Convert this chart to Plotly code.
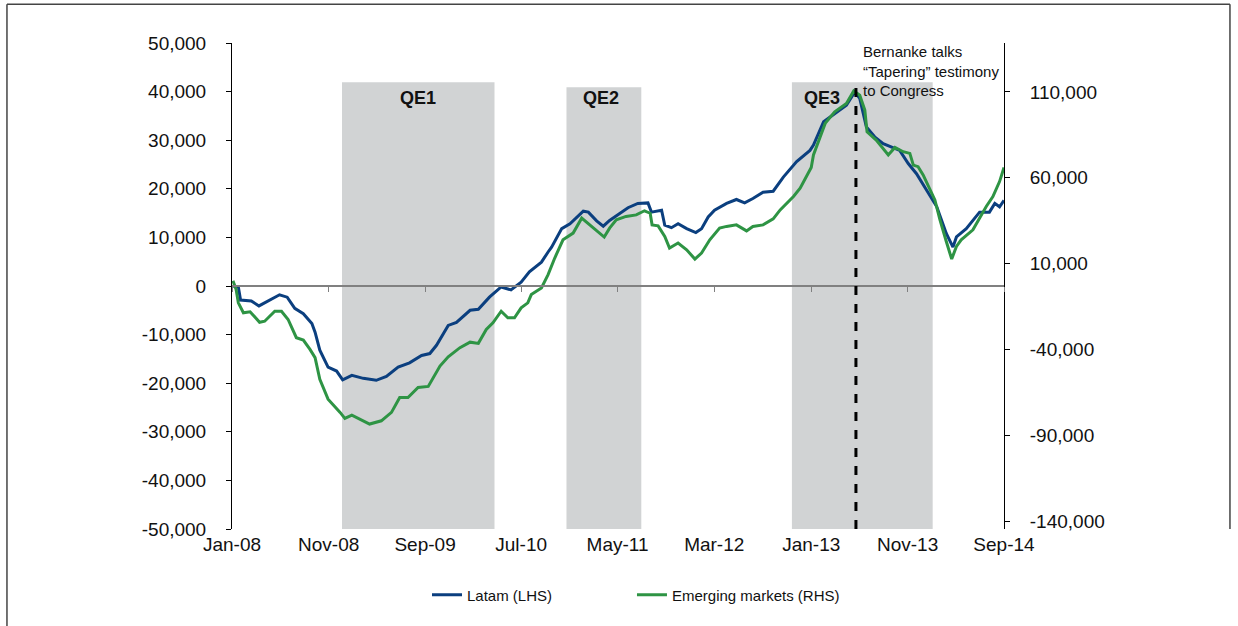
import plotly.graph_objects as go

# Cumulative fund flows, USD mn (weekly series)
latam_dates = [
    "2008-01-04", "2008-01-21", "2008-01-28", "2008-03-02", "2008-03-26", "2008-04-13",
    "2008-05-04", "2008-05-30", "2008-06-23", "2008-07-17", "2008-08-13", "2008-09-09",
    "2008-09-19", "2008-10-04", "2008-10-30", "2008-11-26", "2008-12-15", "2009-01-13",
    "2009-02-18", "2009-03-31", "2009-05-02", "2009-06-08", "2009-07-14", "2009-08-21",
    "2009-09-16", "2009-10-07", "2009-11-13", "2009-12-09", "2010-01-21", "2010-02-16",
    "2010-03-23", "2010-04-29", "2010-05-30", "2010-07-01", "2010-07-27", "2010-09-03",
    "2010-09-24", "2010-10-05", "2010-11-06", "2010-12-02", "2011-01-13", "2011-01-29",
    "2011-02-24", "2011-03-17", "2011-04-06", "2011-05-07", "2011-06-03", "2011-07-04",
    "2011-08-05", "2011-08-16", "2011-09-17", "2011-09-27", "2011-10-18", "2011-11-08",
    "2011-12-05", "2012-01-03", "2012-01-21", "2012-02-11", "2012-03-02", "2012-04-09",
    "2012-05-10", "2012-06-05", "2012-07-01", "2012-08-02", "2012-09-03", "2012-10-05",
    "2012-11-16", "2012-12-28", "2013-01-08", "2013-02-09", "2013-03-16", "2013-04-22",
    "2013-05-18", "2013-06-03", "2013-06-24", "2013-07-20", "2013-08-16", "2013-09-17",
    "2013-10-07", "2013-11-03", "2013-11-29", "2013-12-31", "2014-02-01", "2014-03-03",
    "2014-03-24", "2014-04-04", "2014-05-05", "2014-06-16", "2014-07-17", "2014-08-03",
    "2014-08-18", "2014-09-01",
]
latam_values = [
    0, -200, -2900, -3100, -4100, -3500,
    -2800, -1800, -2300, -4600, -5700, -7700,
    -9500, -13200, -16700, -17500, -19300, -18400,
    -19000, -19400, -18600, -16700, -15800, -14300,
    -13900, -12200, -8100, -7500, -5000, -4800,
    -2300, -200, -800, 800, 2900, 4900,
    7000, 8000, 11800, 12800, 15400, 15200,
    13400, 12300, 13500, 14900, 16100, 17000,
    17100, 15200, 15600, 12500, 12000, 12800,
    11800, 11000, 11800, 14200, 15600, 17000,
    17800, 17100, 18000, 19300, 19500, 22400,
    25600, 27900, 29000, 33800, 35500, 37200,
    39900, 38600, 32700, 30700, 29300, 28500,
    27900, 25200, 23100, 19700, 16300, 10800,
    8000, 10100, 11800, 15200, 15200, 17000,
    16300, 17600,
]

em_dates = [
    "2008-01-04", "2008-01-14", "2008-01-21", "2008-02-06", "2008-02-27", "2008-03-28",
    "2008-04-13", "2008-05-15", "2008-06-05", "2008-06-26", "2008-07-22", "2008-08-13",
    "2008-09-03", "2008-09-19", "2008-10-04", "2008-10-30", "2008-12-07", "2008-12-22",
    "2009-01-13", "2009-02-08", "2009-03-10", "2009-04-16", "2009-05-18", "2009-06-13",
    "2009-07-09", "2009-08-10", "2009-09-11", "2009-10-18", "2009-11-13", "2009-12-20",
    "2010-01-21", "2010-02-16", "2010-03-13", "2010-04-03", "2010-04-29", "2010-05-20",
    "2010-06-10", "2010-07-01", "2010-07-22", "2010-08-02", "2010-09-03", "2010-09-24",
    "2010-10-15", "2010-11-10", "2010-12-12", "2011-01-08", "2011-02-14", "2011-03-20",
    "2011-04-06", "2011-04-27", "2011-05-28", "2011-06-29", "2011-07-25", "2011-08-12",
    "2011-08-18", "2011-09-06", "2011-09-27", "2011-10-12", "2011-11-08", "2011-12-05",
    "2011-12-31", "2012-01-21", "2012-02-16", "2012-03-18", "2012-04-09", "2012-05-10",
    "2012-06-11", "2012-07-01", "2012-08-02", "2012-09-03", "2012-09-25", "2012-11-06",
    "2012-11-27", "2013-01-01", "2013-01-08", "2013-02-14", "2013-03-16", "2013-04-22",
    "2013-05-15", "2013-06-03", "2013-06-19", "2013-06-26", "2013-07-25", "2013-09-01",
    "2013-09-22", "2013-10-18", "2013-11-08", "2013-11-19", "2013-12-04", "2013-12-20",
    "2014-01-26", "2014-02-11", "2014-03-03", "2014-03-20", "2014-04-04", "2014-04-19",
    "2014-05-26", "2014-07-07", "2014-07-28", "2014-08-18", "2014-09-01",
]
em_values = [
    0, -5000, -12800, -18600, -18000, -24100,
    -23500, -17700, -17700, -22500, -33100, -34500,
    -39900, -44700, -57300, -68900, -76600, -80100,
    -78200, -80500, -83400, -81500, -76600, -67900,
    -67900, -62100, -61500, -49600, -44200, -38900,
    -35700, -36400, -28300, -24400, -17700, -21500,
    -21500, -15700, -12800, -8000, -4100, 3600,
    13300, 23900, 27800, 36500, 30700, 25500,
    30700, 35500, 37500, 38400, 40800, 39400,
    32600, 32000, 25800, 19100, 22000, 18100,
    12700, 16200, 23900, 30700, 31700, 32600,
    29100, 31700, 32600, 36100, 41300, 49100,
    53900, 66000, 73300, 91700, 98400, 103300,
    110600, 108100, 99400, 86800, 82000, 73300,
    77700, 75200, 74200, 67400, 66500, 61700,
    47100, 35500, 22900, 12700, 20000, 23900,
    29700, 43300, 49100, 57800, 66000,
]

tick_dates = ["2008-01-01", "2008-11-01", "2009-09-01", "2010-07-01", "2011-05-01",
              "2012-03-01", "2013-01-01", "2013-11-01", "2014-09-01"]
tick_labels = ["Jan-08", "Nov-08", "Sep-09", "Jul-10", "May-11",
               "Mar-12", "Jan-13", "Nov-13", "Sep-14"]

left_ticks = [-50000, -40000, -30000, -20000, -10000, 0, 10000, 20000, 30000, 40000, 50000]
left_labels = ["-50,000", "-40,000", "-30,000", "-20,000", "-10,000", "0",
               "10,000", "20,000", "30,000", "40,000", "50,000"]
right_ticks = [-140000, -90000, -40000, 10000, 60000, 110000]
right_labels = ["-140,000", "-90,000", "-40,000", "10,000", "60,000", "110,000"]

# QE windows: (label, start, end, top of shading on the LHS scale)
qe_names = ["QE1", "QE2", "QE3"]
qe_starts = ["2008-12-13", "2010-11-21", "2012-11-01"]
qe_ends = ["2010-04-08", "2011-07-15", "2014-01-19"]
qe_tops = [41900, 40900, 41900]
qe_label_x = ["2009-08-10", "2011-03-10", "2013-02-05"]

taper_date = "2013-05-22"

FONT = "Liberation Sans, Arial, Helvetica, sans-serif"
BLUE = "#0B3F7F"
GREEN = "#2E9444"

fig = go.Figure()

fig.add_trace(go.Scatter(
    x=latam_dates, y=latam_values, name="Latam (LHS)",
    mode="lines", line=dict(color=BLUE, width=3),
    xaxis="x", yaxis="y", legend="legend",
))
fig.add_trace(go.Scatter(
    x=em_dates, y=em_values, name="Emerging markets (RHS)",
    mode="lines", line=dict(color=GREEN, width=3),
    xaxis="x2", yaxis="y2", legend="legend2",
))

# grey QE bands and their labels
for name, x0, x1, top, lx in zip(qe_names, qe_starts, qe_ends, qe_tops, qe_label_x):
    fig.add_shape(type="rect", xref="x", yref="y", x0=x0, x1=x1, y0=-50000, y1=top,
                  fillcolor="#D1D3D4", line_width=0, layer="below")
    fig.add_annotation(x=lx, y=38700, xref="x", yref="y", text="<b>" + name + "</b>",
                       showarrow=False, font=dict(family=FONT, size=18, color="#111"))

# Bernanke testimony marker
fig.add_shape(type="line", xref="x", yref="y", x0=taper_date, x1=taper_date,
              y0=-50000, y1=41700, line=dict(color="black", width=3, dash="dash"))
fig.add_annotation(x=0.8145, y=1.005, xref="paper", yref="paper", xanchor="left", yanchor="top",
                   align="left", showarrow=False,
                   text="Bernanke talks<br>\u201cTapering\u201d testimony<br>to Congress",
                   font=dict(family=FONT, size=15, color="#111"))

# outer frame
frame = dict(color="#444", width=1.5)
fig.add_shape(type="line", xref="paper", yref="paper", x0=-0.2915, x1=-0.2915, y0=-0.25, y1=1.0796, line=frame)
fig.add_shape(type="line", xref="paper", yref="paper", x0=-0.2915, x1=1.2927, y0=1.0796, y1=1.0796, line=frame)
fig.add_shape(type="line", xref="paper", yref="paper", x0=1.2927, x1=1.2927, y0=0.0, y1=1.0796, line=frame)

legend_style = dict(orientation="h", y=-0.136, yanchor="middle", xanchor="left",
                    font=dict(family=FONT, size=15, color="#111"), bgcolor="rgba(0,0,0,0)")

fig.update_layout(
    width=1238, height=626,
    margin=dict(l=232, r=234, t=43, b=97),
    paper_bgcolor="white", plot_bgcolor="white",
    font=dict(family=FONT, size=19, color="#111"),
    showlegend=True,
    legend=dict(legend_style, x=0.2526),
    legend2=dict(legend_style, x=0.5181),
    xaxis=dict(type="date", range=["2008-01-01", "2014-09-01"], tickvals=tick_dates,
               ticktext=tick_labels, showgrid=False, zeroline=False, showline=False,
               ticks="", ticklabelstandoff=2),
    xaxis2=dict(type="date", overlaying="x", anchor="free", position=0.5, matches="x",
                range=["2008-01-01", "2014-09-01"], tickvals=tick_dates,
                showticklabels=False, showgrid=False, zeroline=False,
                showline=True, linecolor="#808080", linewidth=1.5,
                ticks="outside", ticklen=5, tickcolor="#808080"),
    yaxis=dict(range=[-50000, 50000], tickvals=left_ticks, ticktext=left_labels,
               showgrid=False, zeroline=False, showline=True, linecolor="black", linewidth=1,
               ticks="outside", ticklen=5, tickcolor="black", ticklabelstandoff=16),
    yaxis2=dict(range=[-144500, 138500], tickvals=right_ticks, ticktext=right_labels,
                overlaying="y", side="right", showgrid=False, zeroline=False,
                showline=True, linecolor="black", linewidth=1,
                ticks="outside", ticklen=5, tickcolor="black", ticklabelstandoff=16),
)

# the page body has an 8px default margin; drop it so the figure sits at the window corner
fig.write_html("out.html", config={"displayModeBar": False},
               post_script="document.body.style.margin='0';")
